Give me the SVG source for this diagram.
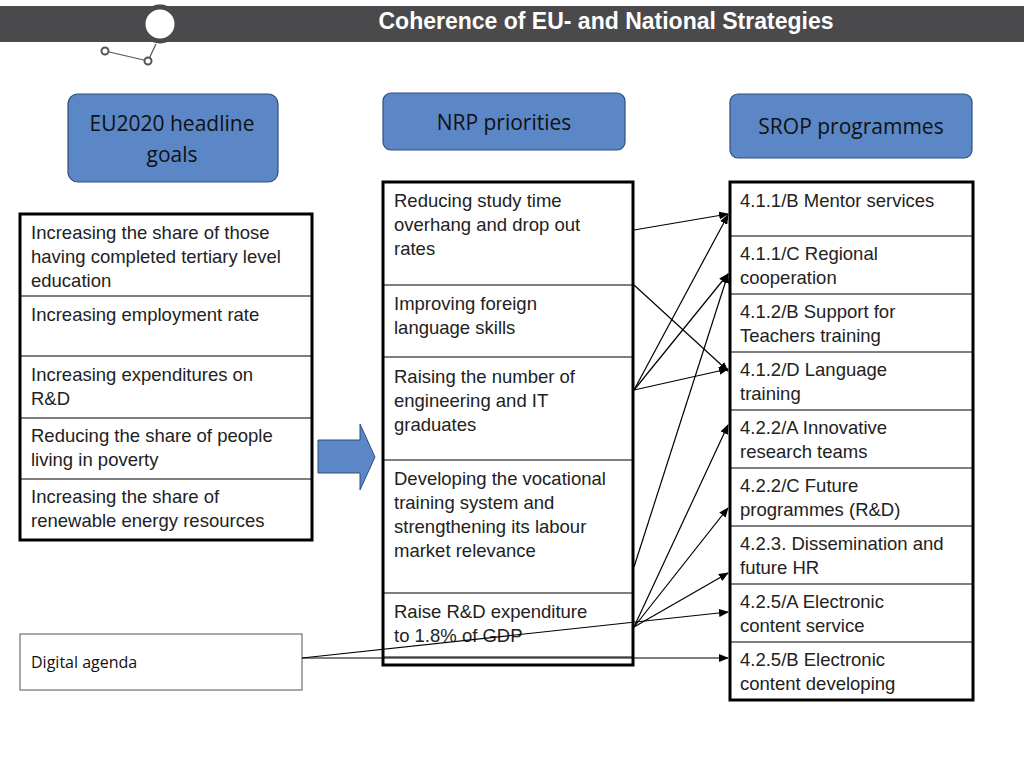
<svg xmlns="http://www.w3.org/2000/svg" width="1024" height="768" viewBox="0 0 1024 768">
<style>
.t{font-family:"Liberation Sans",Arial,sans-serif;font-size:18.5px;fill:#222}
.h{font-family:"Open Sans","Noto Sans",sans-serif;font-size:21px;fill:#111;text-anchor:middle}
.hb{fill:#5b87c7;stroke:#2f4f80;stroke-width:1.2}
.box{fill:#fff;stroke:#000;stroke-width:3}
.ln{stroke:#000;stroke-width:1.2}
.c{stroke:#000;stroke-width:1.2;fill:none;marker-end:url(#a)}
</style>
<defs><marker id="a" markerWidth="10" markerHeight="8" refX="9" refY="4" orient="auto" markerUnits="userSpaceOnUse"><path d="M0,0L10,4L0,8z" fill="#000"/></marker></defs>
<rect width="1024" height="768" fill="#fff"/>
<rect x="0" y="6" width="1024" height="36" fill="#4a4a4c"/>
<text x="606" y="29" font-family="Liberation Sans,Arial,sans-serif" font-size="23" font-weight="bold" fill="#fff" text-anchor="middle">Coherence of EU- and National Strategies</text>
<line x1="105" y1="51" x2="148" y2="61" stroke="#555" stroke-width="1.2"/>
<line x1="148" y1="61" x2="156" y2="44" stroke="#555" stroke-width="1.2"/>
<circle cx="160" cy="24" r="17" fill="#fff" stroke="#4a4a4c" stroke-width="5"/>
<circle cx="105" cy="51" r="3.5" fill="#fff" stroke="#555" stroke-width="2"/>
<circle cx="148" cy="61" r="3.5" fill="#fff" stroke="#555" stroke-width="2"/>
<g id="h1"><rect class="hb" x="68" y="94" width="210" height="88" rx="10"/><text class="h" x="172" y="131">EU2020 headline</text><text class="h" x="172" y="162">goals</text></g>
<g id="h2"><rect class="hb" x="383" y="93" width="242" height="57" rx="8"/><text class="h" x="504" y="130">NRP priorities</text></g>
<g id="h3"><rect class="hb" x="730" y="94" width="242" height="64" rx="8"/><text class="h" x="851" y="134">SROP programmes</text></g>
<g id="left">
<rect class="box" x="20" y="214" width="292" height="326"/>
<line class="ln" x1="20" y1="296" x2="312" y2="296"/><line class="ln" x1="20" y1="356" x2="312" y2="356"/><line class="ln" x1="20" y1="418" x2="312" y2="418"/><line class="ln" x1="20" y1="479" x2="312" y2="479"/>
<text class="t" x="31" y="239">Increasing the share of those</text><text class="t" x="31" y="263">having completed tertiary level</text><text class="t" x="31" y="287">education</text>
<text class="t" x="31" y="321">Increasing employment rate</text>
<text class="t" x="31" y="381">Increasing expenditures on</text><text class="t" x="31" y="405">R&amp;D</text>
<text class="t" x="31" y="442">Reducing the share of people</text><text class="t" x="31" y="466">living in poverty</text>
<text class="t" x="31" y="503">Increasing the share of</text><text class="t" x="31" y="527">renewable energy resources</text>
</g>
<g id="digital"><rect x="20" y="634" width="282" height="56" fill="#fff" stroke="#555" stroke-width="1"/><text x="31" y="668" font-family="Open Sans,Noto Sans,sans-serif" font-size="16" fill="#111">Digital agenda</text></g>
<g id="bigarrow"><path d="M318,440H360V424L375,457L360,490V473H318Z" fill="#5b87c7" stroke="#2f4f80" stroke-width="1"/></g>
<g id="mid">
<rect class="box" x="383" y="182" width="250" height="483"/>
<line class="ln" x1="383" y1="285" x2="633" y2="285"/><line class="ln" x1="383" y1="357" x2="633" y2="357"/><line class="ln" x1="383" y1="460" x2="633" y2="460"/><line class="ln" x1="383" y1="593" x2="633" y2="593"/><line class="ln" x1="383" y1="657" x2="633" y2="657"/>
<text class="t" x="394" y="207">Reducing study time</text><text class="t" x="394" y="231">overhang and drop out</text><text class="t" x="394" y="255">rates</text>
<text class="t" x="394" y="310">Improving foreign</text><text class="t" x="394" y="334">language skills</text>
<text class="t" x="394" y="383">Raising the number of</text><text class="t" x="394" y="407">engineering and IT</text><text class="t" x="394" y="431">graduates</text>
<text class="t" x="394" y="485">Developing the vocational</text><text class="t" x="394" y="509">training system and</text><text class="t" x="394" y="533">strengthening its labour</text><text class="t" x="394" y="557">market relevance</text>
<text class="t" x="394" y="618">Raise R&amp;D expenditure</text><text class="t" x="394" y="642">to 1.8% of GDP</text>
</g>
<g id="right">
<rect class="box" x="730" y="182" width="243" height="518"/>
<line class="ln" x1="730" y1="236" x2="973" y2="236"/><line class="ln" x1="730" y1="294" x2="973" y2="294"/><line class="ln" x1="730" y1="352" x2="973" y2="352"/><line class="ln" x1="730" y1="410" x2="973" y2="410"/><line class="ln" x1="730" y1="468" x2="973" y2="468"/><line class="ln" x1="730" y1="526" x2="973" y2="526"/><line class="ln" x1="730" y1="584" x2="973" y2="584"/><line class="ln" x1="730" y1="642" x2="973" y2="642"/>
<text class="t" x="740" y="207">4.1.1/B Mentor services</text>
<text class="t" x="740" y="260">4.1.1/C Regional</text><text class="t" x="740" y="284">cooperation</text>
<text class="t" x="740" y="318">4.1.2/B Support for</text><text class="t" x="740" y="342">Teachers training</text>
<text class="t" x="740" y="376">4.1.2/D Language</text><text class="t" x="740" y="400">training</text>
<text class="t" x="740" y="434">4.2.2/A Innovative</text><text class="t" x="740" y="458">research teams</text>
<text class="t" x="740" y="492">4.2.2/C Future</text><text class="t" x="740" y="516">programmes (R&amp;D)</text>
<text class="t" x="740" y="550">4.2.3. Dissemination and</text><text class="t" x="740" y="574">future HR</text>
<text class="t" x="740" y="608">4.2.5/A Electronic</text><text class="t" x="740" y="632">content service</text>
<text class="t" x="740" y="666">4.2.5/B Electronic</text><text class="t" x="740" y="690">content developing</text>
</g>
<g id="connectors">
<path class="c" d="M634,230L728,214"/>
<path class="c" d="M634,285L728,371"/>
<path class="c" d="M634,390L728,215"/>
<path class="c" d="M634,390L728,274"/>
<path class="c" d="M634,390L728,369"/>
<path class="c" d="M634,567L728,274"/>
<path class="c" d="M634,627L728,425"/>
<path class="c" d="M634,627L728,508"/>
<path class="c" d="M634,627L728,573"/>
<path class="c" d="M302,658L728,612"/>
<path class="c" d="M302,658L728,658"/>
</g>
</svg>
